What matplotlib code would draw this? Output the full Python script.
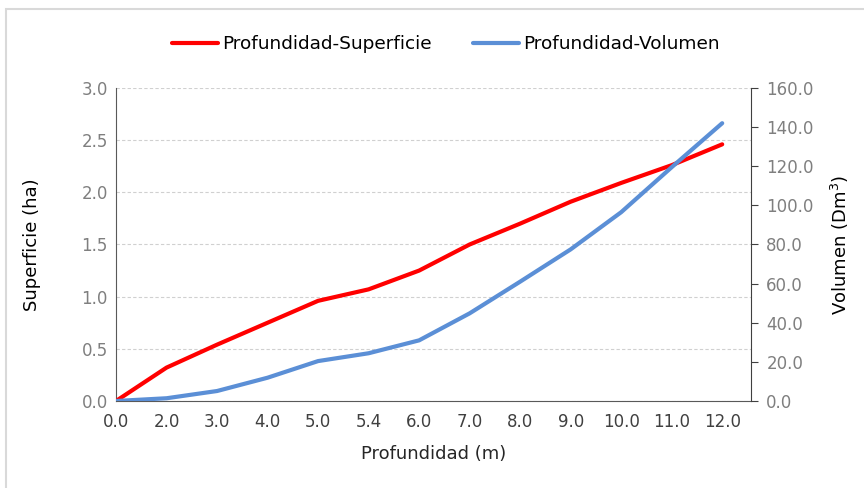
import numpy as np
import matplotlib.pyplot as plt
from matplotlib.patches import Rectangle

plt.rcParams['font.family'] = ['DejaVu Sans']

profundidad = ["0.0", "2.0", "3.0", "4.0", "5.0", "5.4", "6.0", "7.0", "8.0", "9.0", "10.0", "11.0", "12.0"]
superficie = [0.0, 0.32, 0.54, 0.75, 0.96, 1.07, 1.25, 1.50, 1.70, 1.91, 2.09, 2.26, 2.46]
volumen = [0.0, 1.4, 5.1, 11.9, 20.4, 24.4, 31.0, 44.8, 61.0, 77.5, 96.5, 119.5, 142.0]

fig = plt.figure(figsize=(8.64, 4.88), dpi=100)
# light border around the chart area
fig.patches.append(Rectangle((6 / 864, -0.1), 1.2, (488 - 9) / 488 + 0.1,
                             transform=fig.transFigure, fill=False,
                             edgecolor='#d9d9d9', linewidth=1.5))
ax = fig.add_axes([0.1343, 0.1783, 0.8692 - 0.1343, 0.8197 - 0.1783])
ax2 = ax.twinx()

x = np.arange(len(profundidad))
l1, = ax.plot(x, superficie, color='#ff0000', lw=3, solid_capstyle='round',
              label='Profundidad-Superficie', zorder=3)
l2, = ax2.plot(x, volumen, color='#5b8fd6', lw=3, solid_capstyle='round',
               label='Profundidad-Volumen')

ax.set_xlim(0, 12.57)
ax.set_ylim(0, 3.0)
ax2.set_ylim(0, 160)
ax.set_xticks(x)
ax.set_xticklabels(profundidad)
ax.set_yticks(np.arange(0, 3.01, 0.5))
ax.set_yticklabels([f"{v:.1f}" for v in np.arange(0, 3.01, 0.5)])
ax2.set_yticks(np.arange(0, 161, 20))
ax2.set_yticklabels([f"{v:.1f}" for v in np.arange(0, 161, 20)])

ax.grid(axis='y', color='#d0d0d0', linestyle=(0, (3, 2)), linewidth=0.8)
ax.set_axisbelow(True)

ax.spines['top'].set_visible(False)
ax2.spines['top'].set_visible(False)
ax.spines['right'].set_visible(False)
ax2.spines['left'].set_visible(False)
ax2.spines['bottom'].set_visible(False)
ax.spines['left'].set_color('#595959')
ax.spines['bottom'].set_color('#595959')
ax2.spines['right'].set_color('#404040')

ax.tick_params(axis='x', length=0, labelsize=12, colors='#404040', pad=9)
ax.tick_params(axis='y', length=0, labelsize=12, labelcolor='#7f7f7f', pad=6)
ax2.tick_params(axis='y', length=5, color='#404040', labelsize=12,
                labelcolor='#7f7f7f', pad=6)

ax.set_xlabel('Profundidad (m)', fontsize=13, color='#262626', labelpad=10)
ax.set_ylabel('Superficie (ha)', fontsize=13, color='#000000', labelpad=29)
ax2.set_ylabel('Volumen (Dm$^3$)', fontsize=13, color='#000000', labelpad=11)

fig.legend([l1, l2], ['Profundidad-Superficie', 'Profundidad-Volumen'],
           loc='center', bbox_to_anchor=(446 / 864, 1 - 44 / 488), ncol=2,
           frameon=False, fontsize=13.3, handlelength=2.5, columnspacing=2.2,
           handletextpad=0.25)

fig.savefig('out.png', dpi=100)
